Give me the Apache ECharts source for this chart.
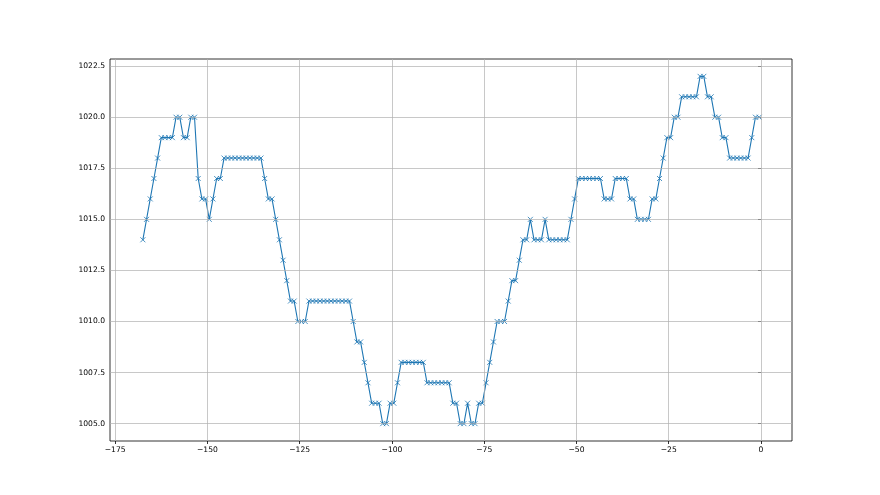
<!DOCTYPE html>
<html>
<head>
<meta charset="utf-8">
<script src="https://cdn.jsdelivr.net/npm/echarts@6/dist/echarts.min.js"></script>
<style>
  html, body { margin: 0; padding: 0; background: #ffffff; }
  #chart { width: 880px; height: 495px; }
</style>
</head>
<body>
<div id="chart"></div>
<script>
// Tick labels
const xTicks = [-175, -150, -125, -100, -75, -50, -25, 0];
const yTicks = [1005, 1007.5, 1010, 1012.5, 1015, 1017.5, 1020, 1022.5];

// Hours relative to now (first reading, step of one hour)
const hourStart = -167.5;
const hourStep = 1;

// Pressure readings (hPa), one per hour, oldest first
const pressure = [
  1014, 1015, 1016, 1017, 1018,
  1019, 1019, 1019, 1019, 1020, 1020, 1019, 1019, 1020, 1020,
  1017, 1016, 1016, 1015, 1016, 1017, 1017,
  1018, 1018, 1018, 1018, 1018, 1018, 1018, 1018, 1018, 1018, 1018,
  1017, 1016, 1016, 1015, 1014, 1013, 1012, 1011, 1011, 1010, 1010, 1010,
  1011, 1011, 1011, 1011, 1011, 1011, 1011, 1011, 1011, 1011, 1011, 1011,
  1010, 1009, 1009, 1008, 1007, 1006, 1006, 1006, 1005, 1005, 1006, 1006, 1007,
  1008, 1008, 1008, 1008, 1008, 1008, 1008,
  1007, 1007, 1007, 1007, 1007, 1007, 1007,
  1006, 1006, 1005, 1005, 1006, 1005, 1005, 1006, 1006, 1007, 1008, 1009,
  1010, 1010, 1010, 1011, 1012, 1012, 1013, 1014, 1014, 1015,
  1014, 1014, 1014, 1015, 1014, 1014, 1014, 1014, 1014, 1014, 1015, 1016,
  1017, 1017, 1017, 1017, 1017, 1017, 1017,
  1016, 1016, 1016, 1017, 1017, 1017, 1017, 1016, 1016,
  1015, 1015, 1015, 1015, 1016, 1016, 1017, 1018, 1019, 1019, 1020, 1020,
  1021, 1021, 1021, 1021, 1021, 1022, 1022, 1021, 1021, 1020, 1020, 1019, 1019,
  1018, 1018, 1018, 1018, 1018, 1018, 1019, 1020, 1020
];

const seriesData = pressure.map((v, i) => [hourStart + i * hourStep, v]);

function fmtX(v) {
  return v < 0 ? '\u2212' + Math.abs(v) : String(v);
}
function fmtY(v) {
  return v.toFixed(1);
}

const gridColor = '#b0b0b0';
const gridLines = yTicks.map(v => ({ yAxis: v })).concat(xTicks.map(v => ({ xAxis: v })));

const chart = echarts.init(document.getElementById('chart'), null, { renderer: 'canvas' });
chart.setOption({
  animation: false,
  backgroundColor: '#ffffff',
  grid: {
    left: 110, right: 88, top: 59, bottom: 54,
    show: true, borderColor: '#000000', borderWidth: 0.8, backgroundColor: 'transparent',
    containLabel: false
  },
  xAxis: {
    type: 'value',
    min: -176.4, max: 8.4,
    axisLine: { show: false },
    splitLine: { show: false },
    axisTick: { show: true, inside: false, length: 3, lineStyle: { color: '#000', width: 0.8 }, customValues: xTicks },
    axisLabel: {
      customValues: xTicks, formatter: fmtX, color: '#000', margin: 5,
      fontFamily: 'DejaVu Sans', fontSize: 7.6
    }
  },
  yAxis: {
    type: 'value',
    min: 1004.15, max: 1022.85,
    axisLine: { show: false },
    splitLine: { show: false },
    axisTick: { show: true, inside: false, length: 3, lineStyle: { color: '#000', width: 0.8 }, customValues: yTicks },
    axisLabel: {
      customValues: yTicks, formatter: fmtY, color: '#000', margin: 5,
      fontFamily: 'DejaVu Sans', fontSize: 7.6
    }
  },
  series: [
    {
      type: 'line',
      z: 1,
      data: [seriesData[0]],
      symbol: 'none',
      lineStyle: { opacity: 0 },
      silent: true,
      markLine: {
        silent: true,
        symbol: ['none', 'none'],
        label: { show: false },
        lineStyle: { color: gridColor, width: 0.7, type: 'solid' },
        emphasis: { disabled: true },
        data: gridLines,
        animation: false
      }
    },
    {
      type: 'line',
      z: 3,
      data: seriesData,
      showSymbol: true,
      symbol: 'path://M0,0L10,10M10,0L0,10',
      symbolSize: 5,
      itemStyle: { color: '#1f77b4', borderColor: '#1f77b4', borderWidth: 0.8 },
      lineStyle: { color: '#1f77b4', width: 1.1 },
      emphasis: { disabled: true }
    }
  ]
});
</script>
</body>
</html>
